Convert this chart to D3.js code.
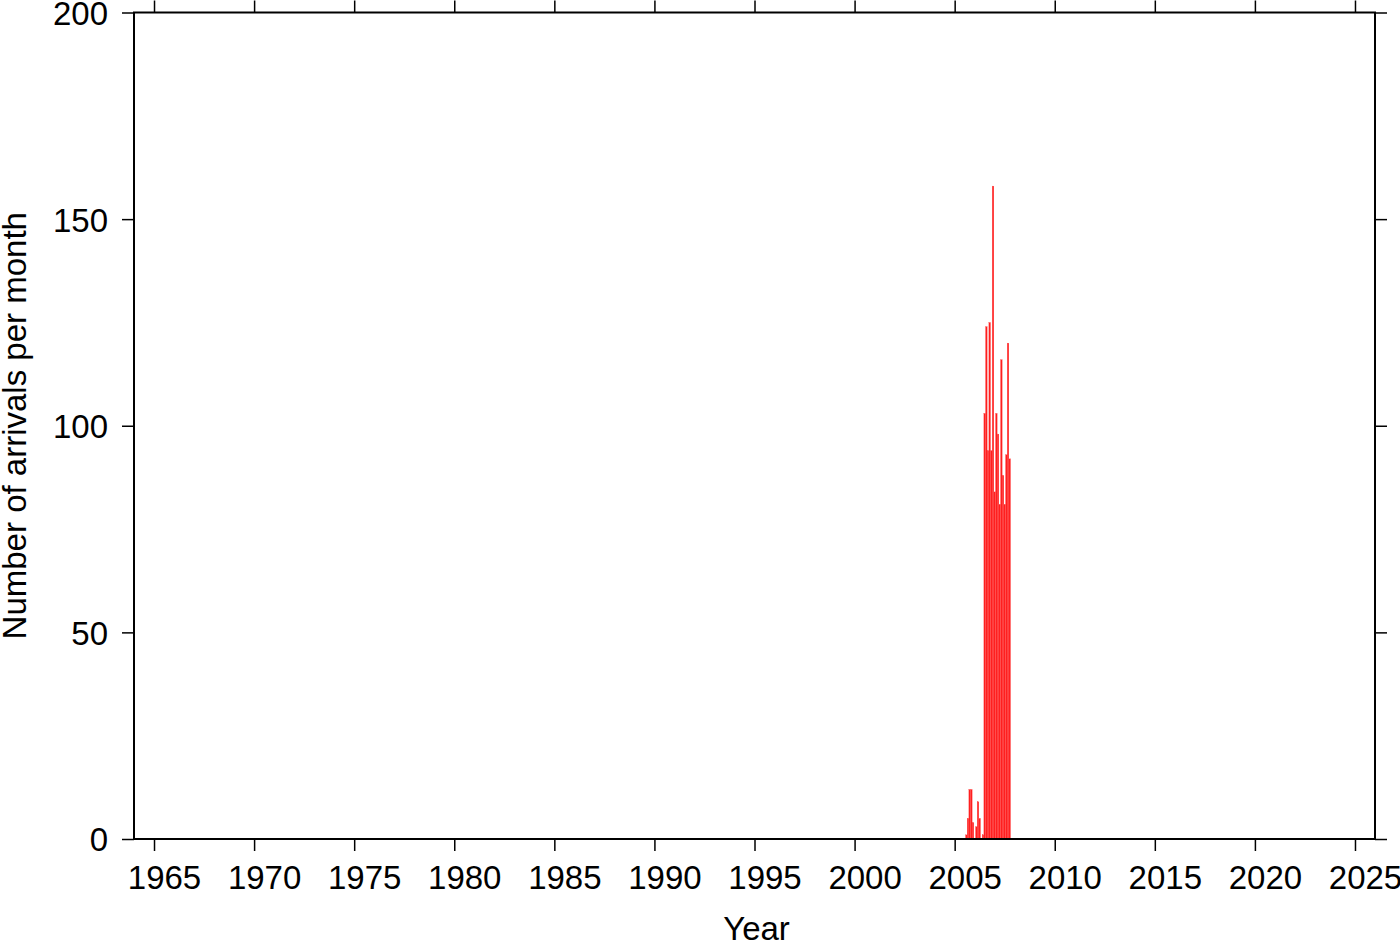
<!DOCTYPE html>
<html>
<head>
<meta charset="utf-8">
<script src="https://cdn.jsdelivr.net/npm/d3@7"></script>
<style>
  html, body { margin: 0; padding: 0; background: #fff; }
  svg { display: block; }
  text { font-family: "Liberation Sans", Arial, Helvetica, sans-serif; fill: #000; }
</style>
</head>
<body>
<svg id="chart" width="1400" height="942"></svg>
<script>
// ---- data ----
const months = ["2005-08","2005-09","2005-10","2005-11","2005-12",
                "2006-01","2006-02","2006-03","2006-04","2006-05","2006-06",
                "2006-07","2006-08","2006-09","2006-10","2006-11","2006-12",
                "2007-01","2007-02","2007-03","2007-04","2007-05","2007-06",
                "2007-07","2007-08","2007-09","2007-10"];
const arrivals = [1,5,12,12,4,
                  0,3,9,5,0,1,
                  103,124,94,125,94,158,
                  84,103,98,81,116,88,
                  81,93,120,92];
const xTicks = [1965,1970,1975,1980,1985,1990,1995,2000,2005,2010,2015,2020,2025];
const yTicks = [0,50,100,150,200];
const xLabel = "Year";
const yLabel = "Number of arrivals per month";

// ---- layout ----
const svg = d3.select("#chart");
const pL = 134, pR = 1375, pT = 12.5, pB = 839;
const x = d3.scaleLinear().domain([1964, 2026]).range([pL, pR]);
const y = d3.scaleLinear().domain([0, 200]).range([pB, pT]);

const toYear = m => { const [yy, mm] = m.split("-").map(Number); return yy + (mm - 1) / 12; };
const data = months.map((m, i) => ({ t: toYear(m), v: arrivals[i] }));
const half = 1 / 24;

// bars
svg.append("g").selectAll("rect").data(data.filter(d => d.v > 0)).join("rect")
  .attr("x", d => x(d.t - half))
  .attr("width", d => x(d.t + half) - x(d.t - half))
  .attr("y", d => y(d.v))
  .attr("height", d => y(0) - y(d.v))
  .attr("fill", "#ff1f1f")
  .attr("stroke", "#ff5050")
  .attr("stroke-width", 0.25);

// axes (ticks outward on all sides)
const tickLen = 12;
const fs = 33;
const axB = svg.append("g").attr("transform", `translate(0,${pB})`)
  .call(d3.axisBottom(x).tickValues(xTicks).tickFormat(d3.format("d")).tickSize(tickLen).tickPadding(12));
const axT = svg.append("g").attr("transform", `translate(0,${pT})`)
  .call(d3.axisTop(x).tickValues(xTicks).tickFormat("").tickSize(tickLen));
const axL = svg.append("g").attr("transform", `translate(${pL},0)`)
  .call(d3.axisLeft(y).tickValues(yTicks).tickFormat(d3.format("d")).tickSize(tickLen).tickPadding(14));
const axR = svg.append("g").attr("transform", `translate(${pR},0)`)
  .call(d3.axisRight(y).tickValues(yTicks).tickFormat("").tickSize(tickLen));

[axB, axT, axL, axR].forEach(a => {
  a.select(".domain").remove();
  a.selectAll(".tick line").attr("stroke", "#000").attr("stroke-width", 1.5);
  a.selectAll(".tick text").attr("font-size", fs).attr("fill", "#000")
    .style("font-family", "'Liberation Sans', Arial, Helvetica, sans-serif");
});
axB.selectAll(".tick text").attr("y", 50).attr("dy", 0).attr("dx", 10);
axL.selectAll(".tick text").attr("dy", "0.36em");

// frame
svg.append("rect")
  .attr("x", pL).attr("y", pT)
  .attr("width", pR - pL).attr("height", pB - pT)
  .attr("fill", "none").attr("stroke", "#000").attr("stroke-width", 2);

// axis titles
svg.append("text")
  .attr("x", (pL + pR) / 2 + 2).attr("y", 940)
  .attr("text-anchor", "middle").attr("font-size", fs)
  .text(xLabel);
svg.append("text")
  .attr("transform", `translate(26,${(pT + pB) / 2}) rotate(-90)`)
  .attr("text-anchor", "middle").attr("font-size", fs)
  .text(yLabel);
</script>
</body>
</html>
